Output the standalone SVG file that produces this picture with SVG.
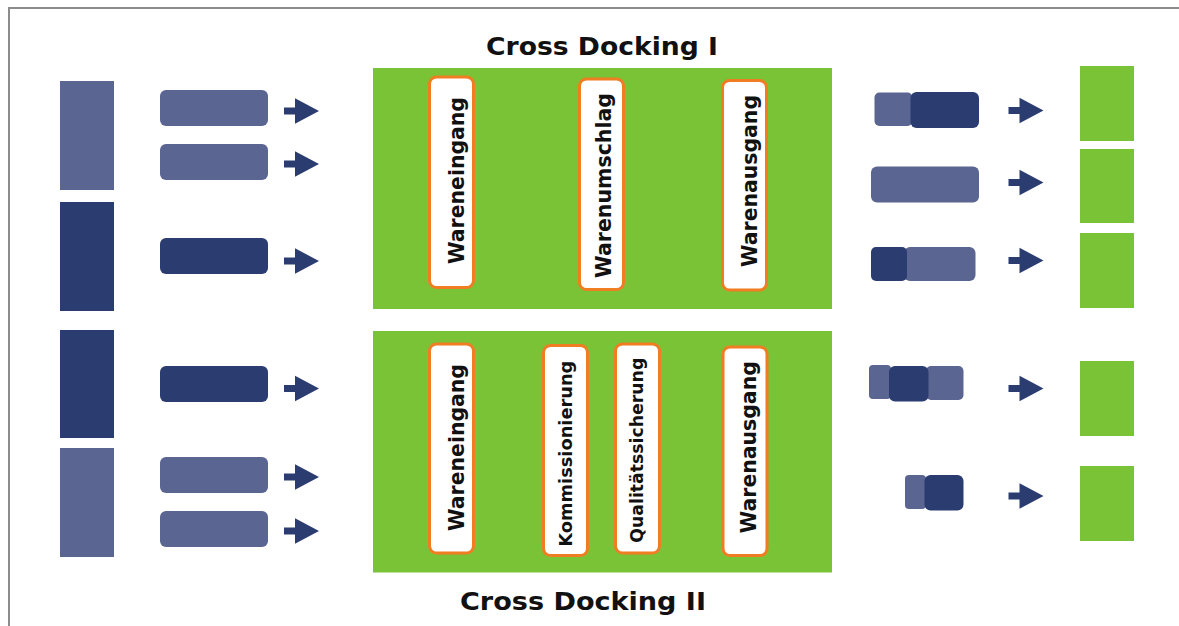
<svg xmlns="http://www.w3.org/2000/svg" xmlns:xlink="http://www.w3.org/1999/xlink" width="1179" height="626" viewBox="0 0 1179 626">
  <style>
    .light { fill: #5a6592; }
    .dark { fill: #2b3c70; }
    .zone { fill: #7ac336; }
    .dock { fill: #7ac336; }
    .step { fill: #ffffff; stroke: #f07d22; stroke-width: 3; }
    .lbl { font-family: "DejaVu Sans", Verdana, sans-serif; font-weight: bold; fill: #111111; text-anchor: middle; }
    .big { font-size: 21px; }
    .small { font-size: 17.5px; }
    .title { font-family: "DejaVu Sans", Verdana, sans-serif; font-weight: bold; font-size: 24px; fill: #111111; }
    .frame { stroke: #8c8c8c; stroke-width: 2; fill: none; }
    .arrow { fill: #2b3c70; }
  </style>
  <defs>
    <path id="arr" d="M0,-3.5 H11 V-12.7 L35,0 L11,12.7 V3.5 H0 Z"/>
  </defs>

  <rect x="0" y="0" width="1179" height="626" fill="#ffffff"/>
  <path class="frame" d="M9,626 V8 H1179"/>

  <!-- Titles -->
  <text class="title" x="486" y="54.5" textLength="232" lengthAdjust="spacingAndGlyphs">Cross Docking I</text>
  <text class="title" x="460" y="610" textLength="246" lengthAdjust="spacingAndGlyphs">Cross Docking II</text>

  <!-- Inbound stacks -->
  <g id="source-1"><rect class="light" x="60" y="81" width="54" height="109"/></g>
  <g id="source-2"><rect class="dark" x="60" y="202" width="54" height="109"/></g>
  <g id="source-3"><rect class="dark" x="60" y="330" width="54" height="108"/></g>
  <g id="source-4"><rect class="light" x="60" y="448" width="54" height="109"/></g>

  <!-- Inbound loads -->
  <g id="load-in-1"><rect class="light" x="160" y="90" width="108" height="36" rx="6"/></g>
  <g id="load-in-2"><rect class="light" x="160" y="144" width="108" height="36" rx="6"/></g>
  <g id="load-in-3"><rect class="dark" x="160" y="238" width="108" height="36" rx="6"/></g>
  <g id="load-in-4"><rect class="dark" x="160" y="366" width="108" height="36" rx="6"/></g>
  <g id="load-in-5"><rect class="light" x="160" y="457" width="108" height="36" rx="6"/></g>
  <g id="load-in-6"><rect class="light" x="160" y="511" width="108" height="36" rx="6"/></g>

  <!-- Cross Docking I -->
  <g id="cross-docking-1">
    <rect class="zone" x="373" y="68" width="459" height="241"/>
    <g id="cd1-wareneingang">
      <rect class="step" x="429.5" y="77" width="44" height="210.5" rx="7"/>
      <text class="lbl big" transform="translate(464,180.5) rotate(-90)" textLength="167" lengthAdjust="spacingAndGlyphs">Wareneingang</text>
    </g>
    <g id="cd1-warenumschlag">
      <rect class="step" x="579.5" y="79" width="44" height="210.5" rx="7"/>
      <text class="lbl big" transform="translate(610.5,185.5) rotate(-90)" textLength="185" lengthAdjust="spacingAndGlyphs">Warenumschlag</text>
    </g>
    <g id="cd1-warenausgang">
      <rect class="step" x="722.5" y="80.5" width="44" height="209.5" rx="7"/>
      <text class="lbl big" transform="translate(756.5,181) rotate(-90)" textLength="172" lengthAdjust="spacingAndGlyphs">Warenausgang</text>
    </g>
  </g>

  <!-- Cross Docking II -->
  <g id="cross-docking-2">
    <rect class="zone" x="373" y="331" width="459" height="241.5"/>
    <g id="cd2-wareneingang">
      <rect class="step" x="429.5" y="344" width="44" height="209" rx="7"/>
      <text class="lbl big" transform="translate(464,447.5) rotate(-90)" textLength="167" lengthAdjust="spacingAndGlyphs">Wareneingang</text>
    </g>
    <g id="cd2-kommissionierung">
      <rect class="step" x="543.5" y="345.5" width="44" height="210" rx="7"/>
      <text class="lbl small" transform="translate(571.5,453.7) rotate(-90)" textLength="186" lengthAdjust="spacingAndGlyphs">Kommissionierung</text>
    </g>
    <g id="cd2-qualitaetssicherung">
      <rect class="step" x="615.5" y="344" width="44" height="209" rx="7"/>
      <text class="lbl small" transform="translate(642.5,450.2) rotate(-90)" textLength="185" lengthAdjust="spacingAndGlyphs">Qualitätssicherung</text>
    </g>
    <g id="cd2-warenausgang">
      <rect class="step" x="723" y="347" width="44" height="208.5" rx="7"/>
      <text class="lbl big" transform="translate(756,447.2) rotate(-90)" textLength="172" lengthAdjust="spacingAndGlyphs">Warenausgang</text>
    </g>
  </g>

  <!-- Outbound loads -->
  <g id="load-out-1">
    <rect class="light" x="874.5" y="92.5" width="38" height="33.5" rx="5"/>
    <rect class="dark" x="910.5" y="92" width="68.5" height="36" rx="6"/>
  </g>
  <g id="load-out-2">
    <rect class="light" x="871" y="166.5" width="108" height="36" rx="6"/>
  </g>
  <g id="load-out-3">
    <rect class="light" x="904" y="247" width="71.5" height="34" rx="6"/>
    <rect class="dark" x="871" y="247" width="36" height="34" rx="5"/>
  </g>
  <g id="load-out-4">
    <rect class="light" x="869" y="365" width="22" height="34" rx="4"/>
    <rect class="light" x="926" y="366" width="37.5" height="34" rx="5"/>
    <rect class="dark" x="889" y="366" width="39.5" height="35.5" rx="6"/>
  </g>
  <g id="load-out-5">
    <rect class="light" x="905" y="475" width="21" height="34" rx="4"/>
    <rect class="dark" x="924.5" y="475" width="39" height="35.5" rx="6"/>
  </g>

  <!-- Outbound docks -->
  <g id="dock-1"><rect class="dock" x="1080" y="66" width="54" height="75"/></g>
  <g id="dock-2"><rect class="dock" x="1080" y="149" width="54" height="74"/></g>
  <g id="dock-3"><rect class="dock" x="1080" y="233" width="54" height="75"/></g>
  <g id="dock-4"><rect class="dock" x="1080" y="361" width="54" height="75"/></g>
  <g id="dock-5"><rect class="dock" x="1080" y="466" width="54" height="75"/></g>

  <!-- Flow arrows -->
  <g id="connectors" class="arrow">
    <use xlink:href="#arr" href="#arr" x="284" y="111"/>
    <use xlink:href="#arr" href="#arr" x="284" y="164"/>
    <use xlink:href="#arr" href="#arr" x="284" y="261"/>
    <use xlink:href="#arr" href="#arr" x="284" y="388.5"/>
    <use xlink:href="#arr" href="#arr" x="284" y="477"/>
    <use xlink:href="#arr" href="#arr" x="284" y="531"/>
    <use xlink:href="#arr" href="#arr" x="1008.5" y="110.5"/>
    <use xlink:href="#arr" href="#arr" x="1008.5" y="182.5"/>
    <use xlink:href="#arr" href="#arr" x="1008.5" y="260.5"/>
    <use xlink:href="#arr" href="#arr" x="1008.5" y="388.5"/>
    <use xlink:href="#arr" href="#arr" x="1008.5" y="496"/>
  </g>
</svg>
